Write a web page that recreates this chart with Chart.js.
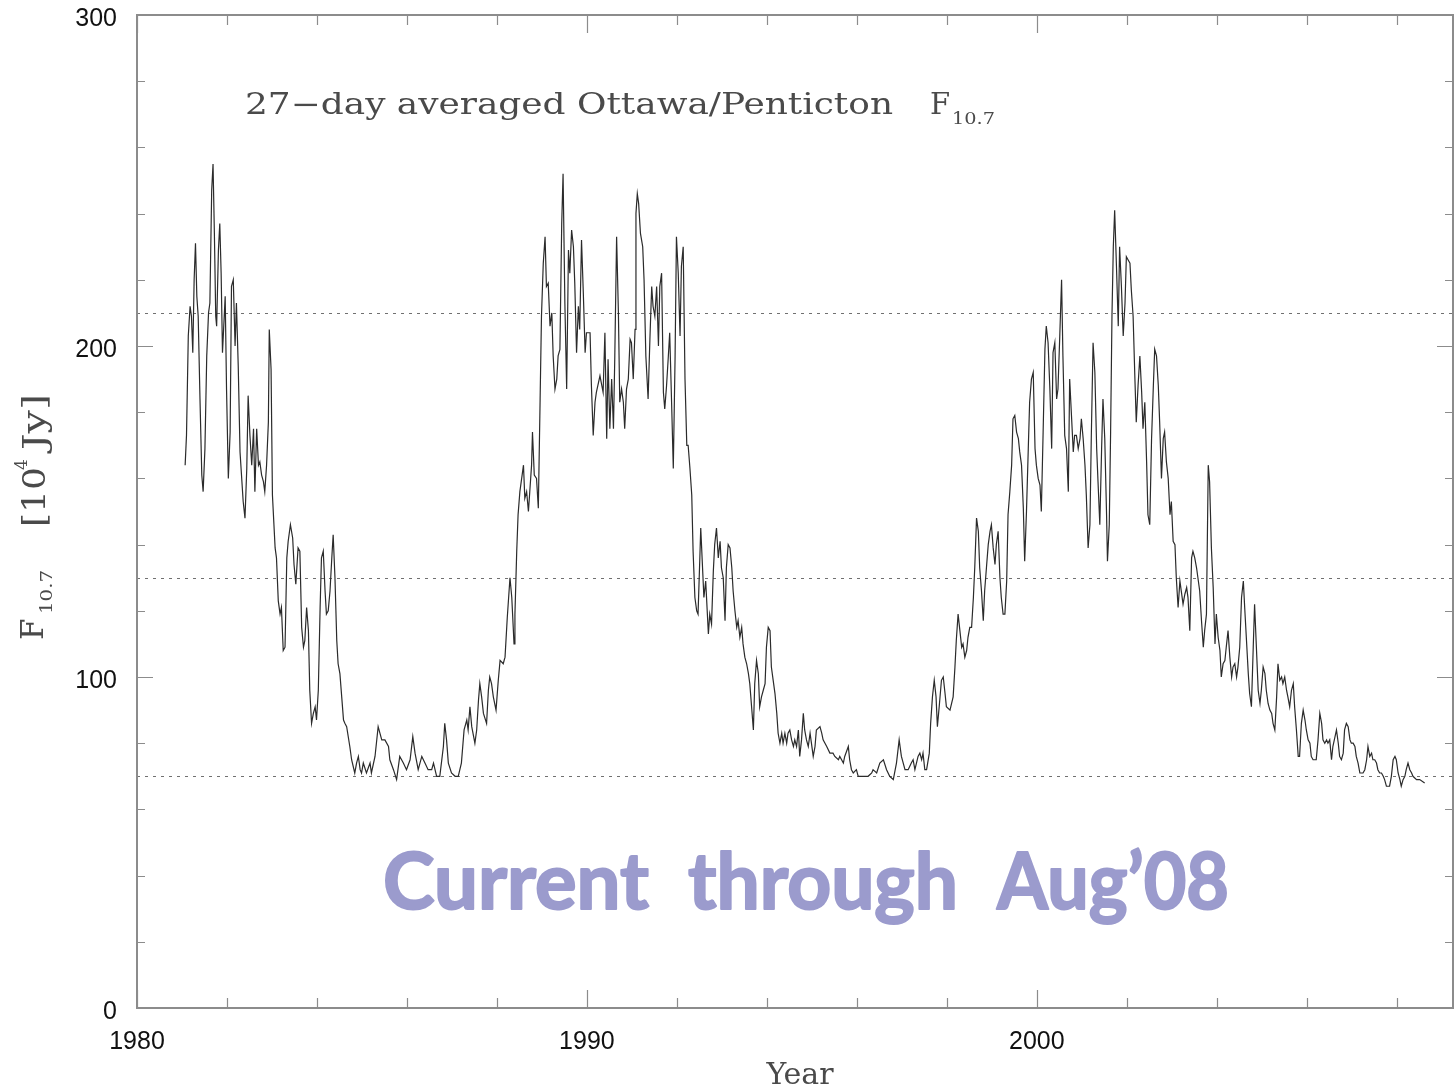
<!DOCTYPE html>
<html>
<head>
<meta charset="utf-8">
<title>27-day averaged Ottawa/Penticton F10.7</title>
<script src="https://cdn.jsdelivr.net/npm/chart.js@4.4.1/dist/chart.umd.min.js"></script>
<style>
html, body { margin: 0; padding: 0; background: #fff; }
#chart-container { width: 1454px; height: 1089px; }
</style>
</head>
<body>
<div id="chart-container"><canvas id="chart" width="1454" height="1089"></canvas></div>
<script>
// 27-day averaged F10.7 values (decimal year / flux in 10^4 Jy)
var years = [
  1981.07,1981.10,1981.14,1981.18,1981.21,1981.24,1981.27,1981.30,1981.33,1981.36,
  1981.40,1981.44,1981.47,1981.51,1981.55,1981.59,1981.62,1981.66,1981.69,1981.72,
  1981.75,1981.77,1981.81,1981.84,1981.87,1981.90,1981.96,1981.99,1982.03,1982.07,
  1982.10,1982.14,1982.18,1982.21,1982.25,1982.29,1982.36,1982.40,1982.44,1982.47,
  1982.51,1982.55,1982.59,1982.62,1982.66,1982.70,1982.73,1982.77,1982.81,1982.84,
  1982.88,1982.92,1982.94,1982.98,1983.01,1983.07,1983.10,1983.14,1983.18,1983.21,
  1983.25,1983.29,1983.33,1983.36,1983.41,1983.46,1983.49,1983.53,1983.58,1983.62,
  1983.66,1983.70,1983.73,1983.77,1983.81,1983.84,1983.88,1983.92,1983.96,1983.99,
  1984.03,1984.07,1984.10,1984.14,1984.18,1984.21,1984.25,1984.29,1984.33,1984.36,
  1984.40,1984.44,1984.47,1984.51,1984.55,1984.59,1984.62,1984.66,1984.73,1984.77,
  1984.84,1984.88,1984.92,1984.96,1984.99,1985.03,1985.10,1985.18,1985.21,1985.29,
  1985.36,1985.44,1985.51,1985.59,1985.62,1985.70,1985.77,1985.84,
  1985.92,1985.99,1986.07,1986.13,1986.18,1986.25,1986.33,1986.40,1986.47,1986.55,
  1986.59,1986.66,1986.73,1986.81,1986.84,1986.88,1986.92,1986.99,1987.07,1987.14,
  1987.21,1987.27,1987.33,1987.36,1987.40,1987.44,1987.51,1987.55,1987.59,1987.62,
  1987.66,1987.70,1987.77,1987.81,1987.84,1987.88,1987.92,1987.98,1988.03,1988.07,
  1988.14,1988.18,1988.23,1988.29,1988.33,1988.38,1988.40,1988.44,1988.47,1988.51,
  1988.55,1988.59,1988.62,1988.66,1988.70,1988.73,1988.77,1988.79,1988.83,1988.88,
  1988.92,1988.96,1988.99,1989.03,1989.07,1989.10,1989.14,1989.18,1989.22,1989.25,
  1989.29,1989.33,1989.36,1989.40,1989.44,1989.47,1989.51,1989.55,1989.59,1989.62,
  1989.66,1989.70,1989.73,1989.77,1989.81,1989.84,1989.88,1989.92,1989.96,1989.99,
  1990.07,1990.10,1990.14,1990.18,1990.21,1990.29,1990.36,1990.40,1990.44,1990.47,
  1990.51,1990.55,1990.59,1990.62,1990.66,1990.70,1990.73,1990.77,1990.81,1990.84,
  1990.88,1990.92,1990.96,1990.99,1991.03,1991.07,1991.09,1991.12,1991.15,
  1991.19,1991.24,1991.27,1991.31,1991.36,1991.40,1991.44,1991.47,1991.51,1991.55,
  1991.59,1991.62,1991.66,1991.70,1991.73,1991.77,1991.81,1991.84,1991.88,1991.92,
  1991.96,1991.99,1992.03,1992.07,1992.10,1992.14,1992.18,1992.22,1992.25,1992.29,
  1992.33,1992.36,1992.40,1992.44,1992.47,1992.51,1992.53,1992.57,1992.60,1992.64,
  1992.70,1992.73,1992.77,1992.81,1992.84,1992.88,1992.92,1992.96,1992.99,1993.03,
  1993.07,1993.10,1993.14,1993.18,1993.22,1993.25,1993.29,1993.33,1993.36,1993.40,
  1993.44,1993.47,1993.51,1993.55,1993.59,1993.62,1993.66,1993.70,1993.73,1993.77,
  1993.81,1993.84,1993.88,1993.92,1993.96,1993.99,1994.03,1994.07,1994.10,1994.14,
  1994.18,1994.22,1994.25,1994.29,1994.33,1994.36,1994.40,1994.44,1994.47,1994.51,
  1994.55,1994.59,1994.62,1994.66,1994.70,1994.73,1994.77,1994.81,1994.84,1994.88,
  1994.92,1994.96,1994.99,1995.03,1995.07,1995.10,1995.18,1995.22,1995.25,1995.33,
  1995.40,1995.47,1995.51,1995.59,1995.62,1995.70,1995.73,1995.81,1995.84,1995.88,
  1995.92,1995.99,1996.03,1996.10,1996.18,1996.25,1996.33,1996.36,1996.44,1996.51,
  1996.59,1996.66,1996.73,1996.81,1996.88,1996.94,1996.99,1997.07,1997.14,1997.21,
  1997.25,1997.29,1997.36,1997.40,1997.44,1997.47,1997.51,1997.55,1997.61,1997.64,
  1997.68,1997.72,1997.76,1997.79,1997.83,1997.88,1997.92,1997.96,1997.99,1998.07,
  1998.14,1998.18,1998.21,1998.25,1998.29,1998.33,1998.36,1998.40,1998.44,1998.47,
  1998.51,1998.55,1998.59,1998.62,1998.66,1998.70,1998.73,1998.77,1998.81,1998.84,
  1998.88,1998.92,1998.96,1998.99,1999.03,1999.07,1999.10,1999.14,1999.18,1999.21,
  1999.25,1999.29,1999.33,1999.36,1999.40,1999.44,1999.47,1999.51,1999.55,1999.59,
  1999.62,1999.66,1999.70,1999.73,1999.77,1999.81,1999.84,1999.88,1999.92,1999.96,
  1999.99,2000.03,2000.07,2000.10,2000.14,2000.18,2000.21,2000.25,2000.29,2000.33,
  2000.36,2000.40,2000.44,2000.47,2000.51,2000.55,2000.58,2000.62,2000.66,2000.70,
  2000.73,2000.77,2000.81,2000.84,2000.88,2000.92,2000.96,2000.99,2001.03,2001.07,
  2001.10,2001.14,2001.18,2001.21,2001.25,2001.29,2001.33,2001.36,2001.40,2001.44,
  2001.47,2001.51,2001.55,2001.57,2001.61,2001.64,2001.67,2001.70,2001.73,2001.77,
  2001.81,2001.84,
  2001.88,2001.92,2001.96,2001.99,2002.03,2002.07,2002.10,2002.14,2002.18,2002.21,
  2002.25,2002.29,2002.33,2002.36,2002.40,2002.44,2002.47,2002.51,2002.55,2002.59,
  2002.62,2002.66,2002.70,2002.73,2002.77,2002.81,2002.84,2002.88,2002.92,2002.96,
  2002.99,2003.03,2003.07,2003.10,2003.14,2003.18,2003.21,2003.25,2003.29,2003.33,
  2003.36,2003.40,2003.44,2003.47,2003.51,2003.55,2003.59,2003.62,2003.66,2003.70,
  2003.73,2003.77,2003.81,2003.84,2003.88,2003.92,2003.96,2003.99,2004.03,2004.07,
  2004.10,2004.14,2004.18,2004.21,2004.25,2004.29,2004.33,2004.36,2004.40,2004.44,
  2004.47,2004.51,2004.55,2004.59,2004.62,2004.66,2004.70,2004.73,2004.77,2004.81,
  2004.84,2004.88,2004.92,2004.96,2004.99,2005.03,2005.07,2005.10,2005.14,2005.18,
  2005.22,2005.25,2005.29,2005.33,2005.36,2005.40,2005.44,2005.47,2005.51,2005.55,
  2005.58,2005.62,2005.66,2005.70,2005.73,2005.77,2005.81,2005.84,2005.88,2005.92,
  2005.96,2005.99,2006.03,2006.07,2006.10,2006.14,2006.21,2006.25,2006.29,2006.33,
  2006.36,2006.40,2006.44,2006.47,2006.51,2006.55,2006.58,2006.66,2006.70,2006.73,
  2006.77,2006.81,2006.84,2006.88,2006.92,2006.96,2006.99,2007.03,2007.07,2007.10,
  2007.14,2007.18,2007.25,2007.29,2007.33,2007.36,2007.40,2007.44,2007.47,2007.51,
  2007.55,2007.58,2007.62,2007.66,2007.70,2007.73,2007.77,2007.84,2007.88,2007.92,
  2007.96,2007.99,2008.03,2008.07,2008.10,2008.14,2008.18,2008.21,2008.25,2008.29,
  2008.33,2008.36,2008.44,2008.51,2008.62
];

var flux = [
  164,173,203,212,209,198,220,231,215,209,
  184,161,156,169,197,210,213,247,255,234,
  209,206,229,237,222,198,215,187,160,174,
  218,220,200,213,194,168,153,148,163,185,
  173,164,175,156,175,164,165,161,159,156,
  164,177,205,193,155,139,136,123,119,121,
  108,109,136,141,146,142,134,128,139,138,
  115,109,111,121,114,96,86,89,91,87,
  96,121,136,138,126,119,120,126,136,143,
  130,111,104,101,94,87,86,85,79,75,
  71,74,76,72,71,74,71,74,71,76,
  85,81,81,79,75,72,69,76,
  74,72,75,82,77,72,76,74,72,72,
  74,70,70,79,86,81,74,71,70,70,
  74,84,87,84,91,85,80,84,93,98,
  94,89,86,96,100,98,94,90,99,105,
  104,106,118,130,124,110,119,138,149,156,
  160,164,154,156,150,156,164,174,161,160,
  151,184,209,225,233,218,219,206,210,197,
  187,190,197,199,237,252,213,187,229,222,
  235,230,219,198,212,205,232,216,198,204,
  204,188,173,183,186,191,186,204,172,196,
  175,190,175,197,233,210,183,187,183,175,
  187,190,202,201,190,205,240,246,243,
  234,230,220,197,184,202,218,212,209,218,
  200,218,222,186,181,188,197,204,184,163,
  197,233,222,203,224,230,190,170,170,163,
  155,138,124,120,119,136,145,133,124,129,
  113,119,116,132,140,145,136,141,133,130,
  117,133,140,139,133,126,120,115,117,112,
  115,110,106,104,101,98,91,84,98,105,
  101,91,94,96,98,109,115,114,103,99,
  95,89,83,80,83,80,83,80,83,84,
  81,79,81,79,84,76,81,89,84,81,
  79,83,80,76,79,84,85,83,81,79,
  77,77,76,75,76,74,76,79,75,72,
  71,72,70,70,70,70,71,72,71,74,
  75,72,70,69,74,81,76,72,72,74,
  75,72,76,77,75,77,72,72,77,86,
  94,99,94,85,91,99,100,95,91,90,
  94,103,111,119,114,109,110,106,108,112,
  115,115,124,133,148,144,133,126,117,126,
  133,140,144,146,139,134,140,144,130,124,
  119,119,129,149,156,164,178,179,174,172,
  168,164,151,135,150,169,183,190,192,169,
  164,160,158,150,174,199,206,201,187,169,
  198,201,184,187,203,220,197,173,169,156,
  190,179,168,173,173,169,172,178,172,164,
  155,139,146,172,201,192,169,159,146,169,
  184,172,149,135,146,174,209,230,241,224,
  206,230,
  218,203,213,227,226,225,217,209,190,177,
  188,197,186,175,183,165,149,146,172,188,
  199,197,188,177,160,172,174,165,160,149,
  153,141,140,130,121,129,126,122,125,127,
  124,114,136,138,136,133,129,126,117,109,
  114,119,164,159,139,127,110,119,112,108,
  100,104,105,109,114,106,100,103,104,100,
  103,109,124,129,121,111,101,95,91,109,
  122,109,96,92,96,103,101,96,92,90,
  89,86,84,94,104,99,100,98,100,96,
  94,91,96,98,91,84,76,76,86,90,
  87,84,81,80,76,75,75,81,89,86,
  81,80,81,80,81,75,79,84,80,76,
  75,77,84,86,85,81,80,80,79,76,
  74,71,71,72,75,79,76,77,75,75,
  74,72,71,71,70,69,67,67,70,75,
  76,75,71,69,67,69,70,72,74,72,
  71,70,69,69,68
];

// axis labels and the dotted reference levels
var xTickLabels = [1980, 1990, 2000];
var yTickLabels = [0, 100, 200, 300];
var refLevels = [70, 130, 210];
var xMinorStep = 2;
var yMinorStep = 20;

var serif = "'DejaVu Serif', 'Liberation Serif', serif";

function fitText(ctx, str, x, y, width, stroke)
{
    var w = ctx.measureText(str).width;
    ctx.save();
    ctx.translate(x, y);
    ctx.scale(width / w, 1);
    if (stroke) ctx.strokeText(str, 0, 0);
    ctx.fillText(str, 0, 0);
    ctx.restore();
}

function noPadding(s)
{
    s.paddingTop = 0;
    s.paddingBottom = 0;
    s.paddingLeft = 0;
    s.paddingRight = 0;
}

// frame on all four sides with inward ticks, plus dotted levels
var framePlugin = {
    id: "frame",
    beforeDatasetsDraw: function(chart)
    {
        var ctx = chart.ctx, a = chart.chartArea, y = chart.scales.y;
        ctx.save();
        ctx.strokeStyle = "#707070";
        ctx.lineWidth = 1;
        ctx.setLineDash([3, 5]);
        refLevels.forEach(function(v)
        {
            var py = Math.round(y.getPixelForValue(v)) + 0.5;
            ctx.beginPath();
            ctx.moveTo(a.left, py);
            ctx.lineTo(a.right, py);
            ctx.stroke();
        });
        ctx.restore();
    },
    afterDatasetsDraw: function(chart)
    {
        var ctx = chart.ctx, a = chart.chartArea, x = chart.scales.x, y = chart.scales.y;
        ctx.save();
        ctx.strokeStyle = "#8c8c8c";
        ctx.lineWidth = 2;
        ctx.strokeRect(a.left, a.top, a.right - a.left, a.bottom - a.top);

        ctx.lineWidth = 1.2;
        for (var yr = x.min; yr <= x.max; yr += xMinorStep)
        {
            var px = Math.round(x.getPixelForValue(yr)) + 0.5;
            var len = yr % 10 === 0 ? 18 : 10;
            ctx.beginPath();
            ctx.moveTo(px, a.bottom); ctx.lineTo(px, a.bottom - len);
            ctx.moveTo(px, a.top); ctx.lineTo(px, a.top + len);
            ctx.stroke();
        }
        for (var v = y.min; v <= y.max; v += yMinorStep)
        {
            var py = Math.round(y.getPixelForValue(v)) + 0.5;
            var l = v % 100 === 0 ? 16 : 8;
            ctx.beginPath();
            ctx.moveTo(a.left, py); ctx.lineTo(a.left + l, py);
            ctx.moveTo(a.right, py); ctx.lineTo(a.right - l, py);
            ctx.stroke();
        }
        ctx.restore();
    },
    afterDraw: function(chart)
    {
        var ctx = chart.ctx;
        ctx.save();
        ctx.fillStyle = "#4a4a4a";
        ctx.textBaseline = "alphabetic";

        // title inside the plot
        ctx.font = "29px " + serif;
        fitText(ctx, "27\u2212day averaged Ottawa/Penticton", 245, 114, 648);
        ctx.fillText("F", 930, 114);
        ctx.font = "17px " + serif;
        fitText(ctx, "10.7", 952, 124, 43);

        // x title
        ctx.font = "30px " + serif;
        ctx.textAlign = "center";
        ctx.fillText("Year", 800, 1084);
        ctx.textAlign = "left";

        // y title, rotated
        ctx.save();
        ctx.translate(0, 640);
        ctx.rotate(-Math.PI / 2);
        ctx.font = "31px " + serif;
        ctx.fillText("F", 0, 43);
        ctx.font = "17px " + serif;
        fitText(ctx, "10.7", 26, 52, 44);
        ctx.font = "31px " + serif;
        fitText(ctx, "[10", 113, 45, 60);
        ctx.font = "17px " + serif;
        ctx.fillText("4", 170, 27);
        ctx.font = "31px " + serif;
        fitText(ctx, "Jy]", 190, 45, 56);
        ctx.restore();

        // annotation, one word at a time
        ctx.fillStyle = "rgb(155,155,205)";
        ctx.strokeStyle = "rgb(155,155,205)";
        ctx.lineWidth = 2;
        ctx.lineJoin = "round";
        ctx.font = "bold 78px 'Comic Sans MS', Lato, 'DejaVu Sans', sans-serif";
        fitText(ctx, "Current", 383, 909, 266, true);
        fitText(ctx, "through", 688, 909, 270, true);
        fitText(ctx, "Aug\u201908", 997, 909, 232, true);
        ctx.restore();
    }
};

var canvas = document.getElementById("chart");
var chart = new Chart(canvas, {
    type: "line",
    data: {
        datasets: [{
            data: years.map(function(yr, i) { return {x: yr, y: flux[i]}; }),
            borderColor: "#2b2b2b",
            borderWidth: 1.2,
            pointRadius: 0,
            tension: 0,
            fill: false
        }]
    },
    options: {
        responsive: false,
        animation: false,
        events: [],
        layout: { padding: { top: 15, right: 1, left: 0, bottom: 0 } },
        plugins: { legend: { display: false }, tooltip: { enabled: false } },
        scales: {
            x: {
                type: "linear",
                min: 1980,
                max: 2009.25,
                afterBuildTicks: function(s) { s.ticks = xTickLabels.map(function(v) { return {value: v}; }); },
                afterFit: function(s) { s.height = 81; noPadding(s); },
                grid: { display: false, drawTicks: false },
                border: { display: false },
                ticks: {
                    font: { family: "'Liberation Sans', Arial, sans-serif", size: 25 },
                    color: "#111",
                    padding: 19,
                    maxRotation: 0,
                    autoSkip: false,
                    callback: function(v) { return String(v); }
                }
            },
            y: {
                min: 0,
                max: 300,
                afterBuildTicks: function(s) { s.ticks = yTickLabels.map(function(v) { return {value: v}; }); },
                afterFit: function(s) { s.width = 137; noPadding(s); },
                grid: { display: false, drawTicks: false },
                border: { display: false },
                ticks: {
                    font: { family: "'Liberation Sans', Arial, sans-serif", size: 25 },
                    color: "#111",
                    padding: 20,
                    labelOffset: 4
                }
            }
        }
    },
    plugins: [framePlugin]
});
</script>
</body>
</html>
